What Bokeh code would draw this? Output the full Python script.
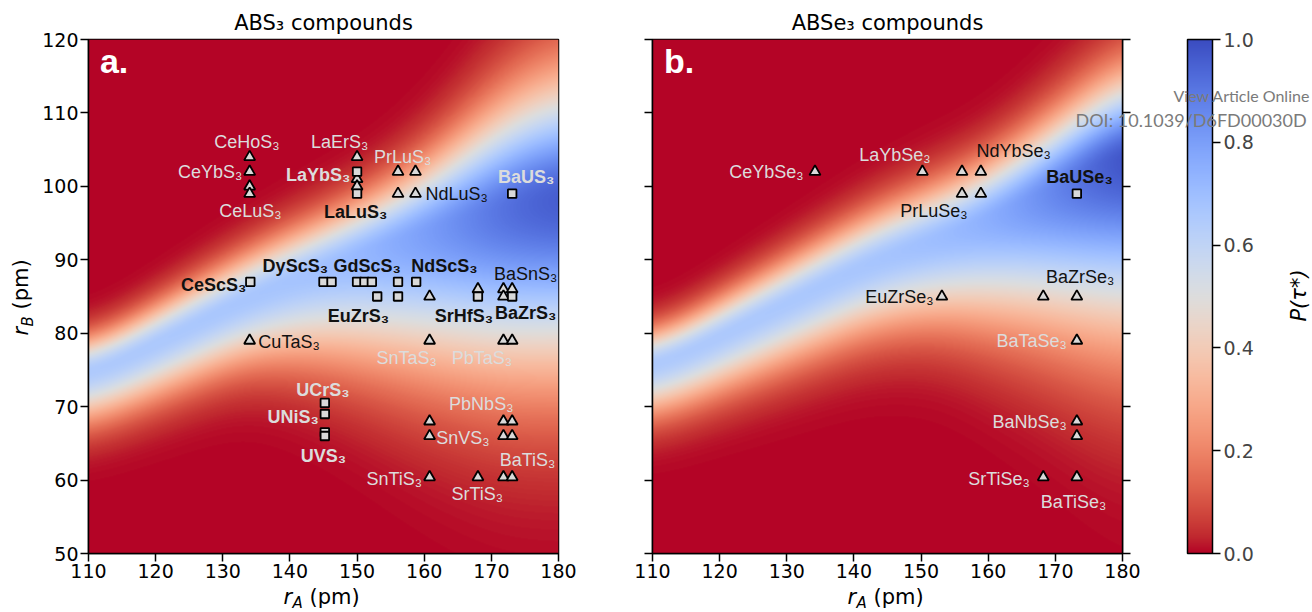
import numpy as np
from bokeh.plotting import figure
from bokeh.models import (ColumnDataSource, Range1d, LinearAxis, FixedTicker, GridBox,
                          LinearColorMapper, ColorBar, Label, PrintfTickFormatter)
from bokeh.layouts import row
from bokeh.embed import file_html
from bokeh.resources import INLINE
from bokeh.core.properties import value

# ---------------- data ----------------
# Panel a: ABS3 compounds (rA, rB in pm)
a_tri_rA = [134, 134, 134, 134, 150, 150, 150, 156.1, 158.7, 156.1, 158.7,
            160.8, 168, 171.8, 173.1, 171.8, 134, 160.8, 171.8, 173.1,
            160.8, 160.8, 171.8, 173.1, 171.8, 173.1, 160.8, 168, 171.8, 173.1]
a_tri_rB = [104, 102, 100, 99, 104, 101, 100, 102, 102, 99, 99,
            85, 86, 86, 86, 85, 79, 79, 79, 79,
            68, 66, 68, 68, 66, 66, 60.4, 60.4, 60.4, 60.4]
a_sq_rA = [150, 150, 173.1, 134.1, 145, 146.2, 150, 151.1, 152.2, 156.1, 158.8,
           153, 156.1, 168, 173.1, 145.2, 145.2, 145.2, 145.2]
a_sq_rB = [102, 99, 99, 87, 87, 87, 87, 87, 87, 87, 87,
           85, 85, 85, 85, 70.5, 69, 66.5, 66]

# Panel b: ABSe3 compounds
b_tri_rA = [134.2, 150.2, 156.1, 158.9, 156.1, 158.9, 153.1, 168.2, 173.2,
            173.2, 173.2, 173.2, 168.2, 173.2]
b_tri_rB = [102, 102, 102, 102, 99, 99, 85, 85, 85, 79, 68, 66, 60.4, 60.4]
b_sq_rA = [173.2]
b_sq_rB = [99]

# compound labels
a_names = ["CeHoS₃", "CeYbS₃", "CeLuS₃", "LaErS₃", "LaYbS₃", "LaLuS₃", "PrLuS₃",
           "NdLuS₃", "BaUS₃", "CeScS₃", "DyScS₃", "GdScS₃", "NdScS₃", "BaSnS₃",
           "EuZrS₃", "SrHfS₃", "BaZrS₃", "CuTaS₃", "SnTaS₃", "PbTaS₃", "UCrS₃",
           "UNiS₃", "UVS₃", "PbNbS₃", "SnVS₃", "BaTiS₃", "SnTiS₃", "SrTiS₃"]
a_name_light = [1, 1, 1, 1, 1, 0, 1, 0, 1, 0, 0, 0, 0, 0, 0, 0, 0, 0, 1, 1, 1, 1, 1, 1, 1, 1, 1, 1]
a_name_bold = [0, 0, 0, 0, 1, 1, 0, 0, 1, 1, 1, 1, 1, 0, 1, 1, 1, 0, 0, 0, 1, 1, 1, 0, 0, 0, 0, 0]

b_names = ["CeYbSe₃", "LaYbSe₃", "NdYbSe₃", "PrLuSe₃", "BaUSe₃", "EuZrSe₃",
           "BaZrSe₃", "BaTaSe₃", "BaNbSe₃", "SrTiSe₃", "BaTiSe₃"]
b_name_light = [1, 1, 0, 0, 0, 0, 0, 1, 1, 1, 1]
b_name_bold = [0, 0, 0, 0, 1, 0, 0, 0, 0, 0, 0]

# P(tau*) surface: ridge centre, ridge height, upper / lower half-widths
a_c_rA = [110, 134, 145, 161, 172, 180]
a_c_rB = [74, 85, 89, 94, 97, 98.5]
a_pk_rA = [110, 145, 161, 172, 180]
a_pk = [0.65, 0.68, 0.80, 0.92, 0.97]
a_up_rA = [110, 150, 160, 172, 180]
a_up = [3.2, 5.0, 6.3, 10.0, 11.5]
a_lo_rA = [110, 134, 145, 161, 172, 180]
a_lo = [4.6, 5.8, 8.5, 13.0, 15.3, 15.8]

b_c_rA = [110, 143, 153, 160, 173, 180]
b_c_rB = [75, 90, 93, 95.5, 101, 104.5]
b_pk_rA = [110, 143, 153, 160, 173, 180]
b_pk = [0.65, 0.67, 0.70, 0.74, 0.90, 1.0]
b_up_rA = [110, 150, 160, 180]
b_up = [3.2, 5.0, 5.3, 8.0]
b_lo_rA = [110, 143, 153, 168, 173, 180]
b_lo = [4.6, 6.5, 7.6, 12.2, 14.0, 16.5]

cbar_ticks = [0.0, 0.2, 0.4, 0.6, 0.8, 1.0]
x_ticks = [110, 120, 130, 140, 150, 160, 170, 180]
y_ticks = [50, 60, 70, 80, 90, 100, 110, 120]

# ---------------- layout / style (label anchors in data units) ----------------
a_lab_pos = [(133.6, 106.0, "center"), (132.9, 102.0, "right"), (134.1, 96.7, "center"),
             (147.4, 106.0, "center"), (149.0, 101.6, "right"), (149.8, 96.5, "center"),
             (156.8, 104.0, "center"), (160.2, 99.0, "left"), (175.2, 101.3, "center"),
             (133.5, 86.5, "right"), (140.8, 89.2, "center"), (151.5, 89.2, "center"),
             (163.0, 89.2, "center"), (175.1, 88.1, "center"), (150.2, 82.4, "center"),
             (165.9, 82.4, "center"), (175.1, 82.7, "center"), (135.3, 78.8, "left"),
             (157.4, 76.6, "center"), (168.6, 76.6, "center"), (144.9, 72.3, "center"),
             (144.3, 68.6, "right"), (145.0, 63.3, "center"), (168.5, 70.3, "center"),
             (161.8, 65.7, "left"), (175.4, 62.7, "center"), (159.7, 60.2, "right"),
             (167.9, 58.1, "center")]
b_lab_pos = [(132.5, 101.9, "right"), (146.1, 104.3, "center"), (163.8, 104.8, "center"),
             (151.9, 96.7, "center"), (173.6, 101.3, "center"), (151.85, 85.0, "right"),
             (173.7, 87.6, "center"), (171.7, 78.9, "right"), (171.7, 67.9, "right"),
             (166.2, 60.2, "right"), (172.7, 57.0, "center")]

LIGHT = "#dcdcdc"
MARK_FILL = "#d9d9d9"
W, H = 1312, 612

# coolwarm anchors (blue -> red); reversed so 0 = red, 1 = blue
coolwarm = [
    (0.2298057, 0.298717966, 0.753683153), (0.26623388, 0.353094838, 0.801466763),
    (0.30386891, 0.406535296, 0.84495867), (0.342804478, 0.458757618, 0.883725899),
    (0.38301334, 0.50941904, 0.917387822), (0.424369608, 0.558148092, 0.945619588),
    (0.46666708, 0.604562568, 0.968154911), (0.509635204, 0.648280772, 0.98478814),
    (0.552953156, 0.688929332, 0.995375608), (0.596262162, 0.726149107, 0.999836203),
    (0.639176211, 0.759599947, 0.998151185), (0.681291281, 0.788964712, 0.990363227),
    (0.722193294, 0.813952739, 0.976574709), (0.761464949, 0.834302879, 0.956945269),
    (0.798691636, 0.849786142, 0.931688648), (0.833466556, 0.860207984, 0.901068838),
    (0.865395197, 0.86541021, 0.865395561), (0.897787179, 0.848937047, 0.820880546),
    (0.924127593, 0.827384882, 0.774508472), (0.944468518, 0.800927443, 0.726736146),
    (0.958852946, 0.769767752, 0.678007945), (0.96732803, 0.734132809, 0.628751763),
    (0.969954137, 0.694266682, 0.579375448), (0.966811177, 0.650421156, 0.530263762),
    (0.958003065, 0.602842431, 0.481775914), (0.943660866, 0.551750968, 0.434243684),
    (0.923944917, 0.49730856, 0.387970225), (0.89904617, 0.439559467, 0.343229596),
    (0.869186849, 0.378313092, 0.300267182), (0.834620542, 0.312874446, 0.259301199),
    (0.795631745, 0.24128379, 0.220525627), (0.752534934, 0.157246067, 0.184115123),
    (0.705673158, 0.01555616, 0.150232812)]
cw = np.array(coolwarm)
t0 = np.linspace(0, 1, len(cw))
t1 = np.linspace(0, 1, 256)
rgb = np.stack([np.interp(t1, t0, cw[:, k]) for k in range(3)], axis=1)[::-1]
palette = ["#%02x%02x%02x" % tuple(int(round(v * 255)) for v in c) for c in rgb]
mapper = LinearColorMapper(palette=palette, low=0, high=1)

NX, NY = 470, 514
gx = np.linspace(110, 180, NX)
gy = np.linspace(50, 120, NY)
GY = gy[:, None]
_k = np.arange(-90, 91)
_kernel = np.exp(-0.5 * (_k / 30.0) ** 2)
_kernel /= _kernel.sum()


def ramp(xa, ya):
    v = np.interp(gx, xa, ya)
    vp = np.pad(v, 90, mode="edge")
    return np.convolve(vp, _kernel, mode="valid")[None, :]


def surface(c_x, c_y, pk_x, pk, up_x, up, lo_x, lo):
    c = ramp(c_x, c_y)
    A = np.clip(ramp(pk_x, pk), 0, 1)
    su = ramp(up_x, up)
    sl = ramp(lo_x, lo)
    d = GY - c
    s = np.where(d > 0, su, sl)
    return np.clip(A * np.exp(-0.5 * (d / s) ** 2), 0, 1)


def style_axis(ax, show_labels=True):
    ax.axis_line_color = "black"
    ax.axis_line_width = 1.5
    ax.major_tick_line_color = "black"
    ax.major_tick_line_width = 1.5
    ax.major_tick_out = 8
    ax.major_tick_in = 0
    ax.minor_tick_line_color = None
    ax.major_label_standoff = 2
    ax.major_label_text_font = "DejaVu Sans"
    if show_labels:
        ax.major_label_text_color = "black"
        ax.major_label_text_font_size = "19px"
    else:
        ax.major_label_text_color = None
        ax.major_label_text_font_size = "1px"


def add_label(p, text, x, y, size, **kw):
    p.add_layout(Label(x=x, y=y, text=text, text_font=kw.pop("font", "DejaVu Sans"),
                       text_font_size=size, **kw))


def make_panel(left, right, field, tri, sq, names, light, bold, pos, tag, show_y):
    p = figure(frame_width=470, frame_height=514, x_range=Range1d(110, 180),
               y_range=Range1d(50, 120), output_backend="svg", toolbar_location=None,
               title=None, min_border_left=left, min_border_right=right,
               min_border_top=39, min_border_bottom=H - 39 - 514)
    p.outline_line_color = "black"
    p.outline_line_width = 1.5
    p.grid.visible = False
    p.background_fill_color = "white"
    p.border_fill_color = "white"
    p.image(image=[field], x=110, y=50, dw=70, dh=70, color_mapper=mapper)
    p.scatter(tri[0], tri[1], marker="triangle", size=11, fill_color=MARK_FILL,
              line_color="black", line_width=1.8)
    p.scatter(sq[0], sq[1], marker="square", size=8.5, fill_color=MARK_FILL,
              line_color="black", line_width=1.8)
    src = ColumnDataSource(dict(
        x=[q[0] for q in pos], y=[q[1] for q in pos], align=[q[2] for q in pos],
        t=names, color=[LIGHT if l else "#111111" for l in light],
        style=["bold" if b else "normal" for b in bold]))
    p.text(x="x", y="y", text="t", source=src, text_font=value("Liberation Sans"),
           text_font_size=value("18px"), text_font_style="style", text_color="color",
           text_align="align", text_baseline=value("middle"))
    p.xaxis.ticker = FixedTicker(ticks=x_ticks)
    p.yaxis.ticker = FixedTicker(ticks=y_ticks)
    style_axis(p.xaxis[0])
    style_axis(p.yaxis[0], show_y)
    add_label(p, tag, 111.7, 114.55, "34px", font="Liberation Sans", text_font_style="bold",
              text_color="white", text_baseline="bottom")
    return p


pa = make_panel(88, 42,
                surface(a_c_rA, a_c_rB, a_pk_rA, a_pk, a_up_rA, a_up, a_lo_rA, a_lo),
                (a_tri_rA, a_tri_rB), (a_sq_rA, a_sq_rB), a_names, a_name_light,
                a_name_bold, a_lab_pos, "a.", True)

pb = make_panel(52, W - 600 - 52 - 470,
                surface(b_c_rA, b_c_rB, b_pk_rA, b_pk, b_up_rA, b_up, b_lo_rA, b_lo),
                (b_tri_rA, b_tri_rB), (b_sq_rA, b_sq_rB), b_names, b_name_light,
                b_name_bold, b_lab_pos, "b.", False)
rax = LinearAxis(ticker=FixedTicker(ticks=y_ticks))
style_axis(rax, False)
pb.add_layout(rax, "right")

cbar = ColorBar(color_mapper=mapper, width=25, height=514, padding=0, margin=0,
                location=(57, 0), ticker=FixedTicker(ticks=cbar_ticks),
                formatter=PrintfTickFormatter(format="%.1f"),
                major_label_text_font="DejaVu Sans", major_label_text_font_size="19px",
                major_tick_out=8, major_tick_in=0, major_tick_line_color="black",
                major_tick_line_width=1.5, label_standoff=3,
                bar_line_color="black", bar_line_width=1.5,
                background_fill_color=None, border_line_color=None)
pb.add_layout(cbar, "right")

# ---- transparent overlay (page pixel coordinates) for texts outside the frames ----
ov = figure(width=W, height=H, x_range=Range1d(0, W), y_range=Range1d(H, 0),
            output_backend="svg", toolbar_location=None, title=None, min_border=0,
            x_axis_location=None, y_axis_location=None)
ov.grid.visible = False
ov.outline_line_color = None
ov.background_fill_color = None
ov.border_fill_color = None

for cx, ttl in [(323, "ABS₃ compounds"), (887, "ABSe₃ compounds")]:
    add_label(ov, ttl, cx, 22, "21px", text_align="center", text_baseline="middle",
              text_color="black")
for x0 in [283, 847]:
    add_label(ov, "r", x0, 608, "21px", text_font_style="italic", text_color="black",
              text_baseline="bottom")
    add_label(ov, "A", x0 + 9, 611, "15px", text_font_style="italic", text_color="black",
              text_baseline="bottom")
    add_label(ov, "(pm)", x0 + 26, 608, "21px", text_color="black", text_baseline="bottom")
add_label(ov, "r", 32, 335, "21px", text_font_style="italic", text_color="black",
          angle=np.pi / 2, text_baseline="bottom")
add_label(ov, "B", 36, 326, "15px", text_font_style="italic", text_color="black",
          angle=np.pi / 2, text_baseline="bottom")
add_label(ov, "(pm)", 32, 309, "21px", text_color="black", angle=np.pi / 2,
          text_baseline="bottom")
add_label(ov, "P(τ*)", 1298, 295, "21px", text_font_style="italic", text_align="center",
          text_baseline="middle", text_color="black", angle=np.pi / 2)
add_label(ov, "View Article Online", 1173, 95, "16px", font="Lato", text_align="left",
          text_baseline="middle", text_color="#7a7a7a")
add_label(ov, "DOI: 10.1039/D6FD00030D", 1075, 119, "18px", font="Lato", text_align="left",
          text_baseline="middle", text_color="#7a7a7a")

layout = GridBox(children=[(row(pa, pb), 0, 0), (ov, 0, 0)])
open("out.html", "w").write(file_html(layout, INLINE))
